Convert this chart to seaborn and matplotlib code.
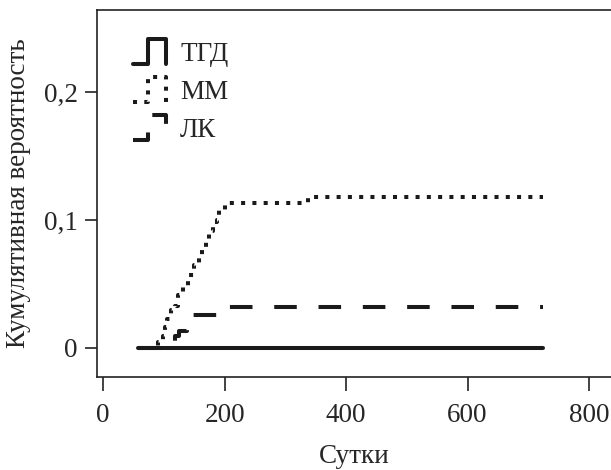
import numpy as np
import pandas as pd
import matplotlib
matplotlib.use("Agg")
import matplotlib.pyplot as plt
import seaborn as sns
from matplotlib.legend_handler import HandlerBase
from matplotlib.lines import Line2D

# ---- data ----
tgd_days = [58, 724]
tgd_prob = [0.0, 0.0]

mm_days = [58, 90, 98, 102, 106, 111, 118, 124, 132, 140, 150, 158, 163, 170,
           174, 181, 187, 191, 200, 338, 724]
mm_prob = [0.0, 0.005, 0.009, 0.016, 0.023, 0.030, 0.033, 0.041, 0.048, 0.057,
           0.065, 0.071, 0.079, 0.084, 0.091, 0.098, 0.100, 0.108, 0.113, 0.118, 0.118]

lk_days = [58, 118, 125, 138, 145, 195, 724]
lk_prob = [0.0, 0.009, 0.013, 0.019, 0.026, 0.032, 0.032]

labels = ["ТГД", "ММ", "ЛК"]
xticks = [0, 200, 400, 600, 800]
yticks = [0, 0.1, 0.2]
ytick_labels = ["0", "0,1", "0,2"]
xlabel = "Сутки"
ylabel = "Кумулятивная вероятность"

FS = 19.5

sns.set_style("ticks")
plt.rcParams["font.family"] = ["Liberation Serif", "DejaVu Serif"]
plt.rcParams["font.size"] = FS

fig = plt.figure(figsize=(6.11, 4.70), dpi=100)
ax = fig.add_axes([97 / 611, (470 - 377) / 470, 514 / 611, 367 / 470])

lw = 2.9
styles = ["-", (0, (1.0, 1.8)), (0, (5.6, 5.4))]
series = [(tgd_days, tgd_prob), (mm_days, mm_prob), (lk_days, lk_prob)]
for (d, p), lab, ls in zip(series, labels, styles):
    df = pd.DataFrame({"days": d, "prob": p})
    sns.lineplot(data=df, x="days", y="prob", ax=ax, color="#1a1a1a",
                 linewidth=lw, linestyle=ls, drawstyle="steps-post",
                 label=lab, estimator=None, sort=True)

ax.set_xlim(-10, 836)
ax.set_ylim(-0.0227, 0.264)
ax.set_xticks(xticks)
ax.set_xticklabels([str(t) for t in xticks])
ax.set_yticks(yticks)
ax.set_yticklabels(ytick_labels)
ax.tick_params(axis="x", direction="out", length=10, width=1.2, pad=9,
               labelsize=FS, color="#222222")
ax.tick_params(axis="y", direction="out", length=9, width=1.2, pad=5,
               labelsize=FS, color="#222222")
ax.set_xlabel(xlabel, fontsize=FS, labelpad=11)
ax.set_ylabel(ylabel, fontsize=FS, labelpad=9)

for s in ["left", "bottom", "top"]:
    ax.spines[s].set_visible(True)
    ax.spines[s].set_linewidth(1.2)
    ax.spines[s].set_color("#222222")
ax.spines["right"].set_visible(False)


class StepHandler(HandlerBase):
    def create_artists(self, legend, orig_handle, xdescent, ydescent, width,
                       height, fontsize, trans):
        xs = np.array([0, 0.45, 0.45, 1.0, 1.0]) * width - xdescent
        ys = np.array([-0.15, -0.15, 1.15, 1.15, -0.15]) * height - ydescent
        line = Line2D(xs, ys)
        self.update_prop(line, orig_handle, legend)
        line.set_drawstyle("default")
        line.set_transform(trans)
        return [line]


handles, labs = ax.get_legend_handles_labels()
ax.legend(handles, labs, loc="upper left",
          bbox_to_anchor=((133 - 97) / 514, 1 - (42 - 10) / 367),
          frameon=False, borderpad=0, borderaxespad=0, handlelength=1.22,
          handletextpad=0.52, labelspacing=0.48, fontsize=FS,
          handler_map={Line2D: StepHandler()})

fig.savefig("out.png", dpi=100)
